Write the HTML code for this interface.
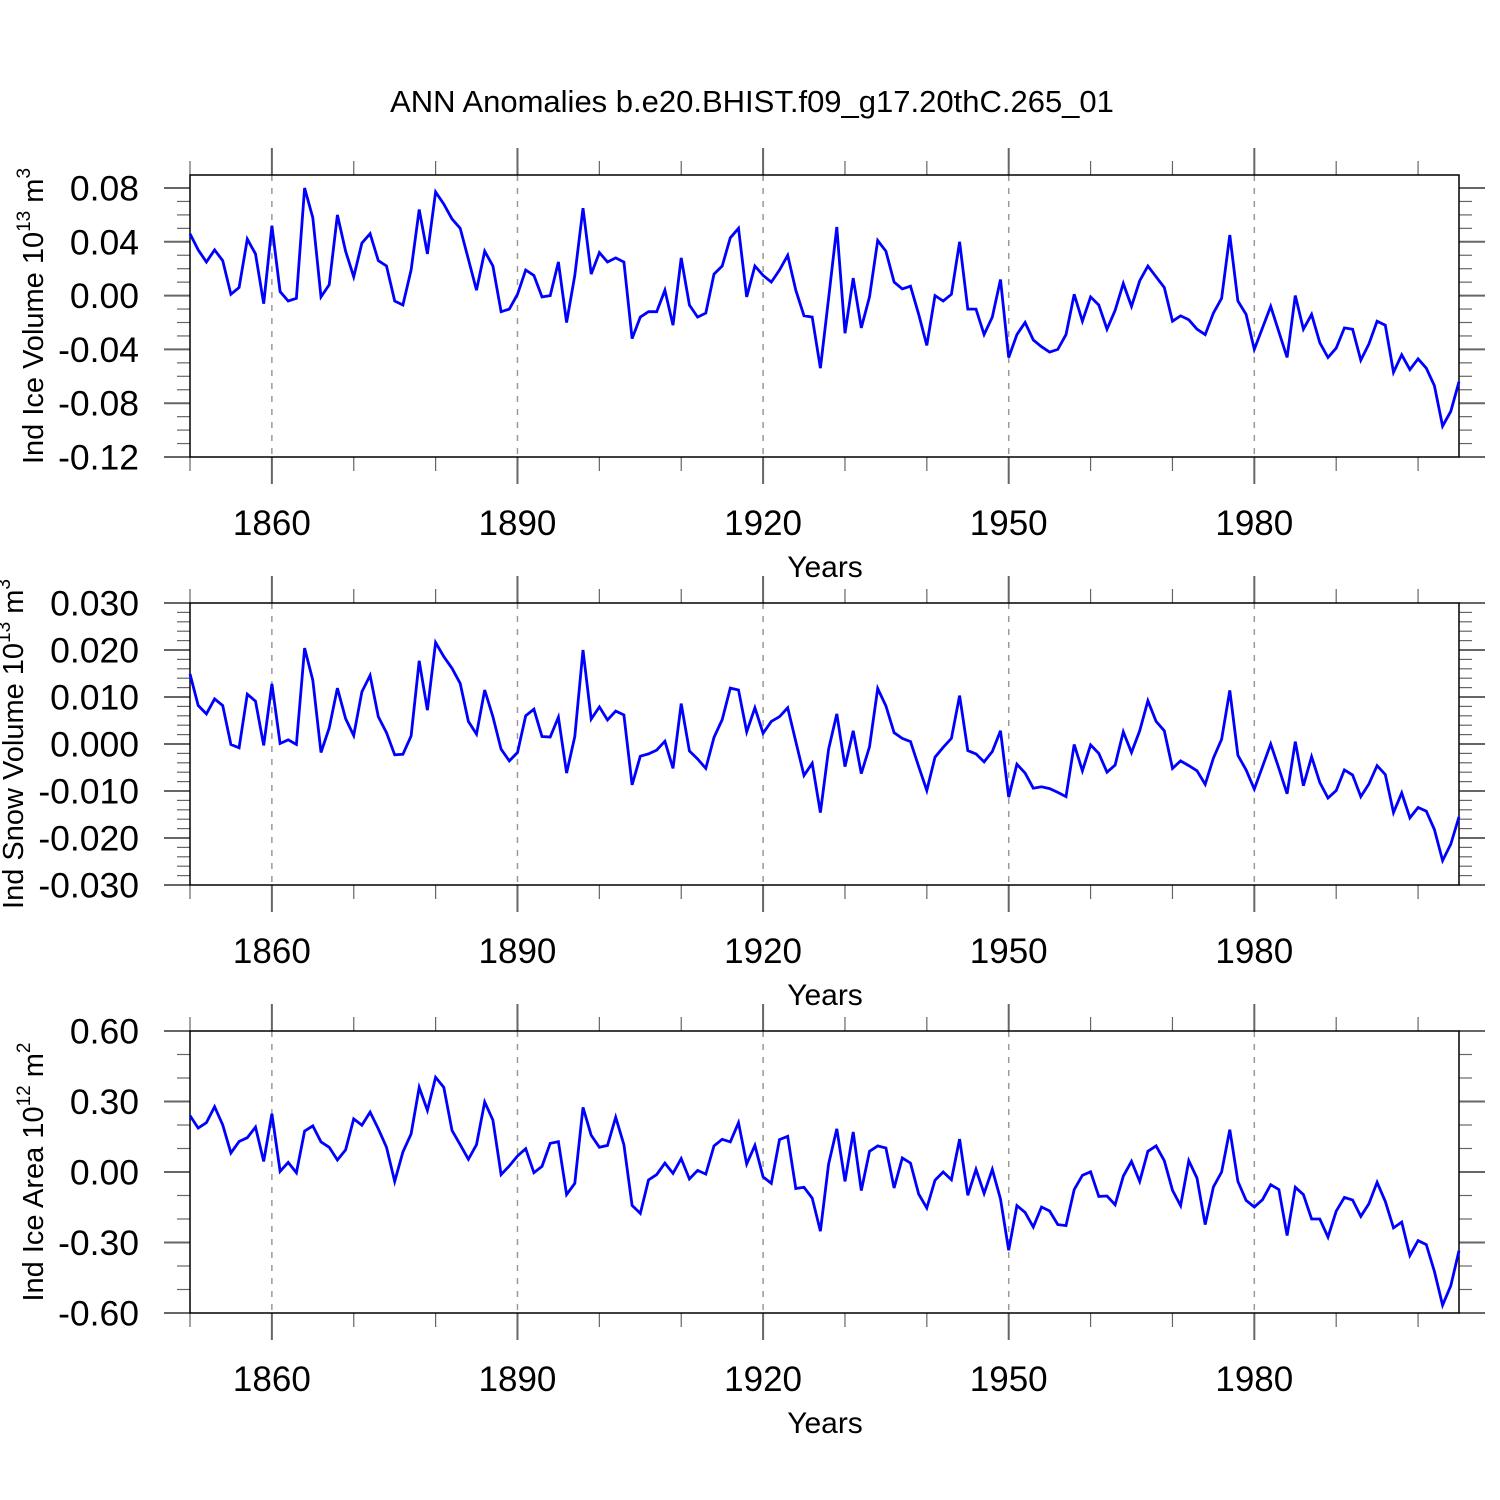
<!DOCTYPE html>
<html><head><meta charset="utf-8"><style>
html,body{margin:0;padding:0;background:#fff;}
svg{display:block;font-family:"Liberation Sans",sans-serif;}
</style></head><body>
<svg id="chart" width="1500" height="1500" viewBox="0 0 1500 1500">
<rect width="1500" height="1500" fill="#fff"/>
<text x="752" y="112" font-size="31" text-anchor="middle">ANN Anomalies b.e20.BHIST.f09_g17.20thC.265_01</text>
</svg>
<script>
const startYear = 1850;
const iceVolume = [0.046,0.034,0.025,0.034,0.026,0.001,0.006,0.042,0.031,-0.006,0.052,0.003,-0.004,-0.002,0.080,0.058,-0.001,0.008,0.060,0.033,0.014,0.039,0.046,0.026,0.022,-0.004,-0.007,0.019,0.064,0.031,0.077,0.068,0.057,0.050,0.027,0.004,0.033,0.022,-0.012,-0.010,0.001,0.019,0.015,-0.001,0.000,0.025,-0.020,0.015,0.065,0.016,0.032,0.025,0.028,0.025,-0.032,-0.016,-0.012,-0.012,0.004,-0.022,0.028,-0.007,-0.016,-0.013,0.016,0.022,0.043,0.050,-0.001,0.022,0.015,0.010,0.019,0.030,0.004,-0.015,-0.016,-0.054,-0.002,0.051,-0.028,0.013,-0.024,-0.001,0.041,0.033,0.010,0.005,0.007,-0.014,-0.037,0.000,-0.004,0.001,0.040,-0.010,-0.010,-0.029,-0.016,0.012,-0.046,-0.029,-0.020,-0.033,-0.038,-0.042,-0.040,-0.029,0.001,-0.019,-0.001,-0.007,-0.025,-0.011,0.009,-0.008,0.011,0.022,0.014,0.006,-0.019,-0.015,-0.018,-0.025,-0.029,-0.013,-0.002,0.045,-0.004,-0.014,-0.040,-0.024,-0.008,-0.027,-0.046,0.000,-0.025,-0.014,-0.035,-0.046,-0.039,-0.024,-0.025,-0.048,-0.036,-0.019,-0.022,-0.057,-0.044,-0.055,-0.047,-0.054,-0.067,-0.097,-0.086,-0.064];
const snowVolume = [0.0149,0.0082,0.0064,0.0096,0.0082,-0.0001,-0.0008,0.0106,0.0091,-0.0003,0.0128,0.0001,0.0009,-0.0001,0.0204,0.0136,-0.0018,0.0034,0.0119,0.0054,0.0018,0.0111,0.0146,0.0058,0.0024,-0.0023,-0.0022,0.0017,0.0177,0.0072,0.0216,0.0186,0.0161,0.0129,0.0048,0.0021,0.0115,0.0058,-0.0011,-0.0036,-0.0018,0.0060,0.0074,0.0016,0.0015,0.0057,-0.0062,0.0016,0.0200,0.0053,0.0079,0.0051,0.0070,0.0062,-0.0087,-0.0026,-0.0021,-0.0013,0.0006,-0.0052,0.0086,-0.0015,-0.0032,-0.0052,0.0014,0.0052,0.0119,0.0115,0.0026,0.0077,0.0023,0.0048,0.0058,0.0077,0.0005,-0.0067,-0.0041,-0.0146,-0.0011,0.0064,-0.0048,0.0028,-0.0063,-0.0006,0.0118,0.0081,0.0024,0.0012,0.0005,-0.0048,-0.0099,-0.0028,-0.0007,0.0012,0.0103,-0.0014,-0.0021,-0.0038,-0.0016,0.0028,-0.0113,-0.0043,-0.0062,-0.0094,-0.0091,-0.0095,-0.0103,-0.0112,-0.0001,-0.0057,-0.0002,-0.0020,-0.0060,-0.0045,0.0026,-0.0018,0.0028,0.0092,0.0048,0.0028,-0.0052,-0.0036,-0.0046,-0.0057,-0.0086,-0.0030,0.0010,0.0114,-0.0024,-0.0055,-0.0096,-0.0048,0.0000,-0.0052,-0.0106,0.0005,-0.0089,-0.0027,-0.0082,-0.0115,-0.0099,-0.0055,-0.0066,-0.0112,-0.0085,-0.0046,-0.0065,-0.0146,-0.0104,-0.0157,-0.0135,-0.0143,-0.0182,-0.0248,-0.0213,-0.0155];
const iceArea = [0.240,0.187,0.210,0.278,0.201,0.081,0.130,0.146,0.191,0.045,0.248,0.003,0.041,-0.003,0.174,0.196,0.128,0.105,0.051,0.094,0.226,0.199,0.255,0.184,0.105,-0.040,0.085,0.162,0.360,0.262,0.403,0.360,0.177,0.116,0.054,0.116,0.298,0.221,-0.011,0.026,0.068,0.099,-0.003,0.024,0.122,0.129,-0.096,-0.048,0.275,0.156,0.105,0.113,0.233,0.116,-0.142,-0.176,-0.034,-0.011,0.038,-0.006,0.057,-0.030,0.007,-0.009,0.111,0.139,0.128,0.210,0.034,0.113,-0.021,-0.048,0.138,0.152,-0.070,-0.065,-0.111,-0.252,0.034,0.184,-0.040,0.170,-0.079,0.088,0.111,0.102,-0.068,0.060,0.038,-0.094,-0.153,-0.035,0.000,-0.033,0.140,-0.099,0.011,-0.091,0.011,-0.115,-0.333,-0.143,-0.172,-0.234,-0.149,-0.166,-0.224,-0.228,-0.075,-0.014,0.001,-0.104,-0.102,-0.139,-0.018,0.045,-0.040,0.088,0.111,0.048,-0.078,-0.143,0.048,-0.026,-0.224,-0.064,0.000,0.180,-0.040,-0.121,-0.149,-0.118,-0.054,-0.075,-0.270,-0.065,-0.096,-0.200,-0.200,-0.277,-0.167,-0.108,-0.119,-0.189,-0.135,-0.044,-0.125,-0.238,-0.213,-0.355,-0.292,-0.309,-0.423,-0.567,-0.484,-0.335];
const yearLabels = [1860,1890,1920,1950,1980];
const iceVolTicks = ["0.08","0.04","0.00","-0.04","-0.08","-0.12"];
const snowVolTicks = ["0.030","0.020","0.010","0.000","-0.010","-0.020","-0.030"];
const iceAreaTicks = ["0.60","0.30","0.00","-0.30","-0.60"];

const NS = "http://www.w3.org/2000/svg";
const svg = document.getElementById("chart");
const X0 = 190, X1 = 1459, Y_END = 2005;
function xScale(yr){ return X0 + (yr - startYear) * (X1 - X0) / (Y_END - startYear); }
function mk(tag, attrs, parent){ const e = document.createElementNS(NS, tag); for (const k in attrs) e.setAttribute(k, attrs[k]); (parent||svg).appendChild(e); return e; }

function panel(cfg){
  const g = mk("g", {});
  
  
  const top = cfg.top, bot = cfg.top + 282;
  const yScale = v => cfg.yTopPx + (cfg.vTop - v) * (cfg.yBotPx - cfg.yTopPx) / (cfg.vTop - cfg.vBot);
  yearLabels.forEach(yr => {
    const x = xScale(yr);
    const l = mk("line", {x1:x, x2:x, y1:top, y2:bot, stroke:"#999", "stroke-width":1.5, "stroke-dasharray":"6,7"}, g);
    
    
  });
  for (let yr = 1850; yr <= 2000; yr += 10){
    const x = xScale(yr);
    const major = yearLabels.includes(yr);
    mk("line", {x1:x, x2:x, y1:top, y2: top - (major ? 27 : 14), stroke:"#666", "stroke-width": major?2:1.2}, g);
    mk("line", {x1:x, x2:x, y1:bot, y2: bot + (major ? 27 : 14), stroke:"#666", "stroke-width": major?2:1.2}, g);
  }
  for (let v = cfg.vBot, i = 0; v <= cfg.vTop + 1e-9; i++, v = cfg.vBot + i * cfg.minor){
    const y = yScale(v);
    const isMajor = (i % cfg.perMajor) === 0;
    const len = isMajor ? 26 : 13;
    mk("line", {x1:X0, x2:X0 - len, y1:y, y2:y, stroke:"#666", "stroke-width": isMajor?2:1.2}, g);
    mk("line", {x1:X1, x2:X1 + len, y1:y, y2:y, stroke:"#666", "stroke-width": isMajor?2:1.2}, g);
  }
  cfg.ticks.forEach(t => {
    const y = yScale(parseFloat(t));
    const tx = mk("text", {x:139, y:y + 12.5, "font-size":35.5, "text-anchor":"end"}, g);
    tx.textContent = t;
    
    
  });
  yearLabels.forEach(yr => {
    const tx = mk("text", {x:xScale(yr), y:bot + 78, "font-size":35, "text-anchor":"middle"}, g);
    tx.textContent = yr;
    
    
  });
  const xt = mk("text", {x:825, y:bot + 120, "font-size":30, "text-anchor":"middle"}, g);
  xt.textContent = "Years";
  
  
  const yt = mk("text", {x:0, y:0, "font-size":29, "text-anchor":"middle", transform:`translate(${cfg.titleX},${top+141}) rotate(-90)`}, g);
  
  
  yt.innerHTML = cfg.title + ' 10<tspan dy="-13" font-size="19">' + cfg.exp + '</tspan><tspan dy="13"> m</tspan><tspan dy="-13" font-size="19">' + cfg.unitExp + '</tspan>';
  const fr = mk("rect", {x:X0, y:top, width:X1-X0, height:282, fill:"none", stroke:"#000", "stroke-width":1.5}, g);
  
  
  const pts = cfg.data.map((v,i) => xScale(startYear + i).toFixed(1) + "," + yScale(v).toFixed(1)).join(" ");
  const pl = mk("polyline", {points:pts, fill:"none", stroke:"#0000ff", "stroke-width":2.8, "stroke-linejoin":"miter"}, g);
  
  
}

panel({name:"ice-volume-panel", top:175, data:iceVolume, ticks:iceVolTicks, vTop:0.08, vBot:-0.12, yTopPx:188, yBotPx:457, minor:0.01, perMajor:4, title:"Ind Ice Volume", exp:"13", unitExp:"3", titleX:43});
panel({name:"snow-volume-panel", top:603, data:snowVolume, ticks:snowVolTicks, vTop:0.03, vBot:-0.03, yTopPx:603, yBotPx:885, minor:0.002, perMajor:5, title:"Ind Snow Volume", exp:"13", unitExp:"3", titleX:23});
panel({name:"ice-area-panel", top:1031, data:iceArea, ticks:iceAreaTicks, vTop:0.6, vBot:-0.6, yTopPx:1031, yBotPx:1313, minor:0.1, perMajor:3, title:"Ind Ice Area", exp:"12", unitExp:"2", titleX:43});
</script>
</body></html>
